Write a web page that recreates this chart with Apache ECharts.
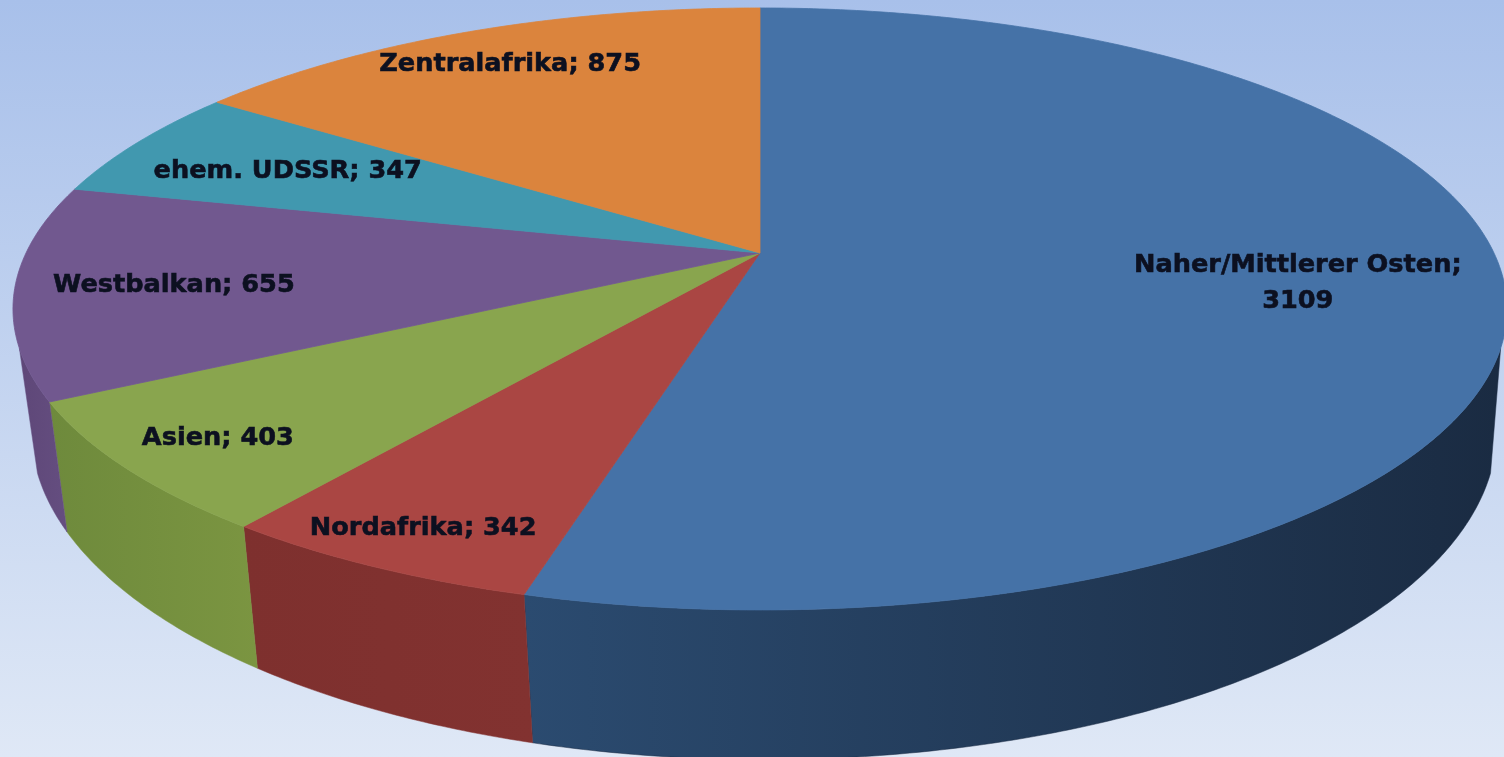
<!DOCTYPE html>
<html>
<head>
<meta charset="utf-8">
<style>html,body{margin:0;padding:0;overflow:hidden}#c{width:1504px;height:757px}</style>
<script src="https://cdn.jsdelivr.net/npm/echarts@6/dist/echarts.min.js"></script>
</head>
<body>
<div id="c"></div>
<script>
// Data, clockwise from 12 o'clock
var regions = ['Naher/Mittlerer Osten', 'Nordafrika', 'Asien', 'Westbalkan', 'ehem. UDSSR', 'Zentralafrika'];
var counts = [3109, 342, 403, 655, 347, 875];

// Styling
var topColors = ['#4572A7', '#AA4643', '#89A54E', '#71588F', '#4198AF', '#DB843D'];
var sideLeft = ['#2B4B70', '#7E302E', '#6E8A3C', '#5E4778', null, null];
var sideRight = ['#1A2B42', '#823230', '#7B9541', '#654E80', null, null];
var labelRadius = [0.726, 0.89, 0.87, 0.79, 0.745, 0.84];

// Perspective projection of the disc
var K = 0.186;
var top_ = {cx: 760, cy: 253, a: 734, b: 290.6};
var bot_ = {cx: 764, cy: 369, a: 720, b: 318};
var SIL_RIGHT = 108, SIL_LEFT = 252; // silhouette generators of the rim, degrees
var LABEL_DY = 2;

function project(face, deg, r) {
  var t = deg * Math.PI / 180;
  var x = r * Math.sin(t), y = r * Math.cos(t);
  var d = 1 + K * y;
  return [face.cx + face.a * x / d, face.cy - face.b * y / d];
}
function arc(face, from, to) {
  var n = Math.max(2, Math.ceil(Math.abs(to - from))) * 2, pts = [];
  for (var i = 0; i <= n; i++) pts.push(project(face, from + (to - from) * i / n, 1));
  return pts;
}

var total = counts.reduce(function (s, v) { return s + v; }, 0);

function renderItem(params, api) {
  var idx = params.dataIndex, before = 0;
  for (var i = 0; i < idx; i++) before += counts[i];
  var start = before / total * 360;
  var end = (before + api.value(1)) / total * 360;
  var mid = (start + end) / 2;
  var children = [];

  var s = Math.max(start, SIL_RIGHT), e = Math.min(end, SIL_LEFT);
  if (e > s) {
    children.push({
      type: 'polygon',
      shape: {points: arc(top_, s, e).concat(arc(bot_, e, s))},
      style: {
        fill: new echarts.graphic.LinearGradient(0, 0, 1, 0, [
          {offset: 0, color: sideLeft[idx]}, {offset: 1, color: sideRight[idx]}
        ]),
        stroke: sideRight[idx], lineWidth: 0.5
      },
      z2: 1
    });
  }
  children.push({
    type: 'polygon',
    shape: {points: [project(top_, 0, 0)].concat(arc(top_, start, end))},
    style: {fill: topColors[idx], stroke: topColors[idx], lineWidth: 0.8},
    z2: 2
  });
  var name = regions[idx];
  var sep = name.length > 15 ? ';\n' : '; ';
  var p = project(top_, mid, labelRadius[idx]);
  children.push({
    type: 'text',
    x: p[0], y: p[1] + LABEL_DY,
    style: {
      text: name + sep + api.value(1),
      x: 0, y: 0,
      align: 'center', verticalAlign: 'middle',
      fill: '#0C1020',
      stroke: '#0C1020',
      lineWidth: 0.6,
      font: 'bold 25.6px "DejaVu Sans", sans-serif',
      lineHeight: 36
    },
    z2: 10
  });
  return {type: 'group', children: children};
}

var chart = echarts.init(document.getElementById('c'), null, {renderer: 'canvas'});
chart.setOption({
  animation: false,
  backgroundColor: new echarts.graphic.LinearGradient(0, 0, 0, 1, [
    {offset: 0, color: '#A8C0EA'}, {offset: 1, color: '#DFE8F6'}
  ]),
  series: [{
    type: 'custom',
    coordinateSystem: 'none',
    renderItem: renderItem,
    data: regions.map(function (r, i) { return [r, counts[i]]; }),
    dimensions: ['region', 'count'],
    encode: {itemName: 0, value: 1},
    silent: true
  }]
});
</script>
</body>
</html>
